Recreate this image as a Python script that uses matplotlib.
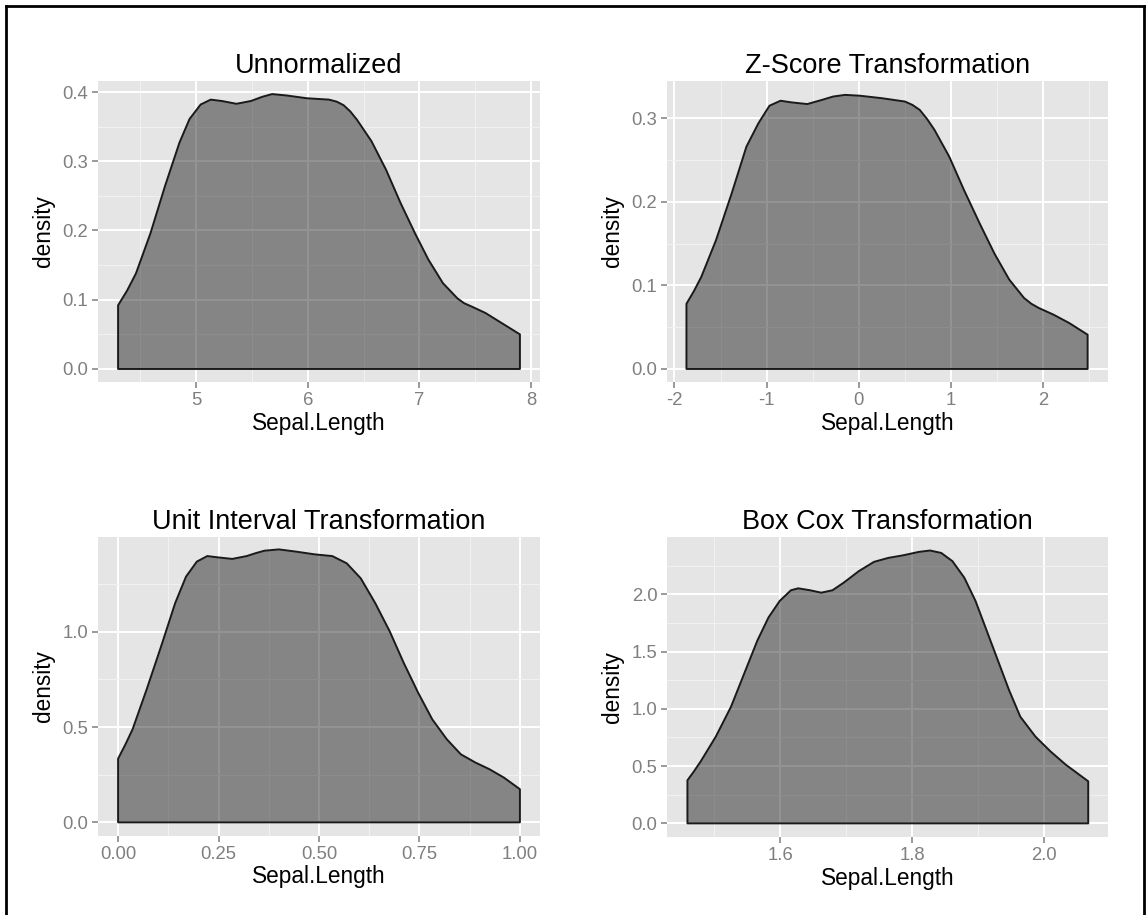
import matplotlib.pyplot as plt
from matplotlib.lines import Line2D
from matplotlib.ticker import FixedLocator

plt.rcParams['font.family'] = ['Liberation Sans', 'DejaVu Sans']
plt.rcParams['axes.unicode_minus'] = False

##################################
## Density curves of Sepal.Length

unnorm_x = [4.30, 4.38, 4.46, 4.59, 4.72, 4.85, 4.94, 5.04, 5.13, 5.23, 5.36, 5.49, 5.59, 5.68, 5.81, 5.99,
            6.19, 6.26, 6.32, 6.38, 6.44, 6.57, 6.70, 6.83, 6.96, 7.08, 7.21, 7.34, 7.40, 7.47, 7.59, 7.72, 7.90]
unnorm_y = [0.092, 0.113, 0.138, 0.196, 0.264, 0.327, 0.361, 0.382, 0.389, 0.387, 0.383, 0.387, 0.393, 0.397, 0.395, 0.391,
            0.389, 0.386, 0.381, 0.372, 0.360, 0.329, 0.288, 0.240, 0.196, 0.158, 0.124, 0.102, 0.095, 0.090, 0.081, 0.068, 0.050]

zscore_x = [-1.87, -1.79, -1.71, -1.55, -1.38, -1.22, -1.09, -0.97, -0.85, -0.73, -0.56, -0.40, -0.28, -0.15, 0.01, 0.25,
            0.50, 0.58, 0.66, 0.74, 0.82, 0.98, 1.14, 1.31, 1.47, 1.63, 1.79, 1.87, 1.95, 2.11, 2.28, 2.48]
zscore_y = [0.078, 0.093, 0.110, 0.154, 0.210, 0.266, 0.294, 0.315, 0.321, 0.319, 0.317, 0.322, 0.326, 0.328, 0.327, 0.324,
            0.320, 0.316, 0.310, 0.299, 0.286, 0.254, 0.214, 0.174, 0.138, 0.107, 0.085, 0.078, 0.073, 0.065, 0.055, 0.041]

unit_x = [0.000, 0.018, 0.036, 0.071, 0.107, 0.142, 0.169, 0.196, 0.222, 0.249, 0.284, 0.320, 0.342, 0.364, 0.400, 0.444, 0.489,
          0.533, 0.569, 0.604, 0.640, 0.676, 0.711, 0.747, 0.782, 0.818, 0.853, 0.889, 0.924, 0.960, 1.000]
unit_y = [0.334, 0.408, 0.488, 0.697, 0.923, 1.150, 1.289, 1.368, 1.397, 1.390, 1.382, 1.397, 1.412, 1.425, 1.432, 1.420, 1.406,
          1.397, 1.359, 1.280, 1.150, 1.002, 0.836, 0.679, 0.540, 0.436, 0.357, 0.314, 0.279, 0.235, 0.174]

boxcox_x = [1.459, 1.469, 1.479, 1.502, 1.525, 1.547, 1.565, 1.582, 1.599, 1.616, 1.627, 1.645, 1.662, 1.679, 1.696, 1.719, 1.742,
            1.764, 1.787, 1.810, 1.827, 1.844, 1.861, 1.879, 1.896, 1.913, 1.930, 1.947, 1.964, 1.987, 2.010, 2.033, 2.067]
boxcox_y = [0.376, 0.455, 0.540, 0.757, 1.017, 1.335, 1.595, 1.798, 1.942, 2.035, 2.052, 2.035, 2.014, 2.035, 2.101, 2.202, 2.283,
            2.318, 2.341, 2.370, 2.382, 2.361, 2.289, 2.145, 1.942, 1.682, 1.422, 1.162, 0.931, 0.757, 0.627, 0.512, 0.367]

titles = ["Unnormalized", "Z-Score Transformation", "Unit Interval Transformation", "Box Cox Transformation"]

x_breaks = [[5, 6, 7, 8], [-2, -1, 0, 1, 2], [0, 0.25, 0.5, 0.75, 1.0], [1.6, 1.8, 2.0]]
x_labels = [["5", "6", "7", "8"], ["-2", "-1", "0", "1", "2"],
            ["0.00", "0.25", "0.50", "0.75", "1.00"], ["1.6", "1.8", "2.0"]]
x_minor = [[4.5, 5.5, 6.5, 7.5], [-1.5, -0.5, 0.5, 1.5, 2.5],
           [0.125, 0.375, 0.625, 0.875], [1.5, 1.7, 1.9]]

y_breaks = [[0, 0.1, 0.2, 0.3, 0.4], [0, 0.1, 0.2, 0.3], [0, 0.5, 1.0], [0, 0.5, 1.0, 1.5, 2.0]]
y_labels = [["0.0", "0.1", "0.2", "0.3", "0.4"], ["0.0", "0.1", "0.2", "0.3"],
            ["0.0", "0.5", "1.0"], ["0.0", "0.5", "1.0", "1.5", "2.0"]]
y_minor = [[0.05, 0.15, 0.25, 0.35], [0.05, 0.15, 0.25],
           [0.25, 0.75, 1.25], [0.25, 0.75, 1.25, 1.75, 2.25]]

x_limits = [(4.12, 8.08), (-2.081, 2.701), (-0.05, 1.05), (1.428, 2.097)]
y_limits = [(-0.0188, 0.4159), (-0.0156, 0.3446), (-0.0716, 1.497), (-0.119, 2.50)]

curves = [(unnorm_x, unnorm_y), (zscore_x, zscore_y), (unit_x, unit_y), (boxcox_x, boxcox_y)]

W, H = 1147, 915
# axes boxes in pixels: left, top, right, bottom
boxes = [(98, 81, 540, 382), (667, 81, 1108, 382), (98, 537, 540, 836), (667, 537, 1108, 837)]

fig = plt.figure(figsize=(W / 100, H / 100), dpi=100)

for i, (xs, ys) in enumerate(curves):
    l, t, r, b = boxes[i]
    ax = fig.add_axes([l / W, 1 - b / H, (r - l) / W, (b - t) / H])
    ax.set_facecolor("#e5e5e5")
    for s in ax.spines.values():
        s.set_visible(False)

    # closed density polygon, outline runs along the baseline too
    px = [xs[0]] + list(xs) + [xs[-1]]
    py = [0] + list(ys) + [0]
    ax.fill(px, py, facecolor=(0, 0, 0, 0.42), edgecolor="#1a1a1a", linewidth=1.4,
            joinstyle="round", zorder=3)

    ax.set_xlim(x_limits[i])
    ax.set_ylim(y_limits[i])
    ax.set_xticks(x_breaks[i])
    ax.set_xticklabels(x_labels[i])
    ax.set_yticks(y_breaks[i])
    ax.set_yticklabels(y_labels[i])
    ax.xaxis.set_minor_locator(FixedLocator(x_minor[i]))
    ax.yaxis.set_minor_locator(FixedLocator(y_minor[i]))

    ax.grid(True, which="major", color="white", linewidth=1.4, zorder=1)
    ax.grid(True, which="minor", color="#f2f2f2", linewidth=0.7, zorder=1)
    ax.set_axisbelow(True)

    ax.tick_params(which="major", length=4, width=1.1, color="#7f7f7f",
                   labelcolor="#7f7f7f", labelsize=13.3, pad=3)
    ax.tick_params(which="minor", length=0)

    ax.set_title(titles[i], fontsize=19.5, pad=5.5, color="black")
    ax.set_xlabel("Sepal.Length", fontsize=16.3, labelpad=2)
    ax.set_ylabel("density", fontsize=16.3, labelpad=5)

# frame around the figure (open at the bottom)
for xx, yy in [([6 / W, 6 / W], [0, 1 - 6 / H]),
               ([1144 / W, 1144 / W], [0, 1 - 6 / H]),
               ([6 / W, 1144 / W], [1 - 6 / H, 1 - 6 / H])]:
    fig.add_artist(Line2D(xx, yy, color="black", linewidth=2, solid_capstyle="projecting"))

fig.savefig("out.png", dpi=100)
